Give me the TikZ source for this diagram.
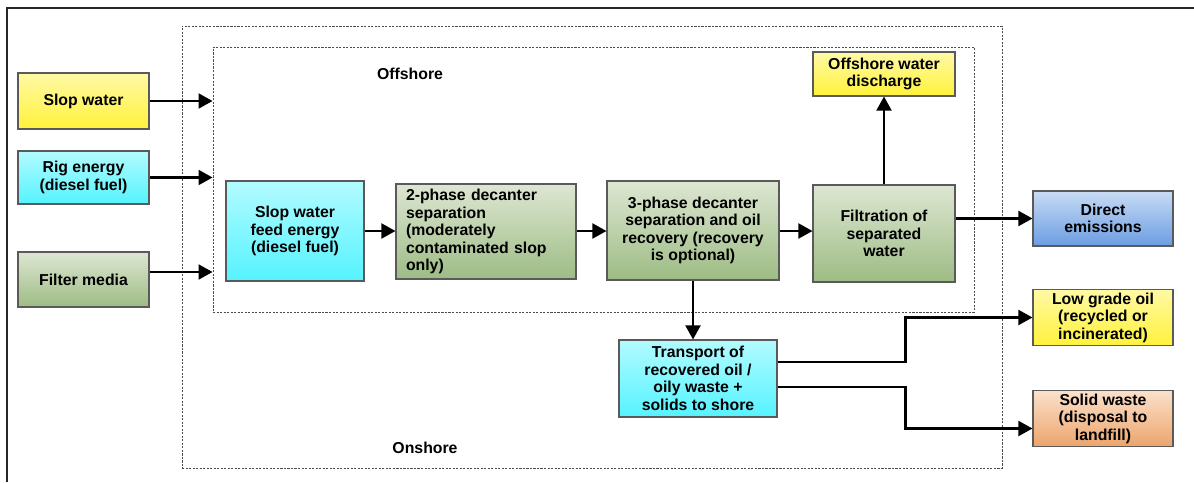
\documentclass[tikz,border=0pt]{standalone}
\usepackage{fontspec}
\setmainfont{Liberation Sans}
\usetikzlibrary{arrows.meta}

\definecolor{ylwtop}{HTML}{FFF9A6}
\definecolor{ylwbot}{HTML}{FFF23A}
\definecolor{cyntop}{HTML}{B2FBFF}
\definecolor{cynbot}{HTML}{55F3FF}
\definecolor{grntop}{HTML}{DDE6D2}
\definecolor{grnbot}{HTML}{9DBC84}
\definecolor{blutop}{HTML}{C8DBF4}
\definecolor{blubot}{HTML}{6B9DE3}
\definecolor{orgtop}{HTML}{FBE1CC}
\definecolor{orgbot}{HTML}{ECA46A}
\definecolor{edgegray}{HTML}{5A5A5A}

\tikzset{
  box/.style={draw=edgegray, line width=0.6pt, align=center, inner sep=2pt,
    font=\fontsize{9}{10}\selectfont\bfseries},
  ylwbox/.style={box, top color=ylwtop, bottom color=ylwbot},
  cynbox/.style={box, top color=cyntop, bottom color=cynbot},
  grnbox/.style={box, top color=grntop, bottom color=grnbot},
  blubox/.style={box, top color=blutop, bottom color=blubot},
  orgbox/.style={box, top color=orgtop, bottom color=orgbot},
  frame/.style={draw=black!70, line width=0.5pt, dash pattern=on 1.2pt off 0.8pt,
    fill=none},
  flow/.style={line width=1.3pt, -{Triangle[length=8pt,width=8.5pt]}},
  tag/.style={font=\fontsize{9}{10}\selectfont\bfseries}
}

\begin{document}
\begin{tikzpicture}
    \useasboundingbox (0,0) rectangle (23.88,-9.64);

    % Page frame
    \draw[line width=1pt, black!85] (23.88,-0.16) -- (0.14,-0.16) -- (0.14,-9.64);

    % Onshore and offshore regions
    \node[frame, minimum width=16.40cm, minimum height=8.84cm] (onshore) at (11.84,-4.94) {};
    \node[frame, minimum width=15.22cm, minimum height=5.30cm] (offshore) at (11.87,-3.59) {};
    \node[tag] (offlabel) at (8.20,-1.47) {Offshore};
    \node[tag] (onlabel) at (8.50,-8.96) {Onshore};

    % Inputs
    \node[ylwbox, minimum width=2.62cm, minimum height=1.12cm] (slop) at (1.67,-2.02) {Slop water};
    \node[cynbox, minimum width=2.62cm, minimum height=1.06cm] (rig) at (1.67,-3.55) {Rig energy\\(diesel fuel)};
    \node[grnbox, minimum width=2.62cm, minimum height=1.10cm] (filter) at (1.67,-5.59) {Filter media};

    % Process steps
    \node[cynbox, minimum width=2.76cm, minimum height=2.00cm] (feed) at (5.90,-4.62) {Slop water\\feed energy\\(diesel fuel)};
    \node[grnbox, text width=3.20cm, inner xsep=0.2cm, align=left, minimum height=1.90cm] (twophase) at (9.72,-4.63) {2-phase decanter\\separation\\(moderately\\contaminated slop\\only)};
    \node[grnbox, minimum width=3.44cm, minimum height=1.98cm] (threephase) at (13.86,-4.61) {3-phase decanter\\separation and oil\\recovery (recovery\\is optional)};
    \node[grnbox, minimum width=2.84cm, minimum height=1.94cm] (filtration) at (17.68,-4.67) {Filtration of\\separated\\water};
    \node[cynbox, minimum width=3.16cm, minimum height=1.54cm] (transport) at (13.96,-7.57) {Transport of\\recovered oil /\\oily waste +\\solids to shore};

    % Outputs
    \node[ylwbox, minimum width=2.84cm, minimum height=0.88cm] (discharge) at (17.68,-1.48) {Offshore water\\discharge};
    \node[blubox, minimum width=2.80cm, minimum height=1.10cm] (direct) at (22.06,-4.37) {Direct\\emissions};
    \node[ylwbox, minimum width=2.80cm, minimum height=1.10cm] (lowgrade) at (22.06,-6.35) {Low grade oil\\(recycled or\\incinerated)};
    \node[orgbox, minimum width=2.80cm, minimum height=1.06cm] (solid) at (22.06,-8.37) {Solid waste\\(disposal to\\landfill)};

    % Connector ends
    \coordinate (filterout) at ([yshift=0.15cm]filter.east);
    \coordinate (oilout) at ([yshift=0.33cm]transport.east);
    \coordinate (solidout) at ([yshift=-0.17cm]transport.east);
    \coordinate (solidin) at ([yshift=-0.2cm]solid.west);

    % Connectors
    \draw[flow] (slop.east) -- (offshore.west |- slop.east);
    \draw[flow] (rig.east) -- (offshore.west |- rig.east);
    \draw[flow] (filterout) -- (offshore.west |- filterout);
    \draw[flow] (feed.east) -- (twophase.west |- feed.east);
    \draw[flow] (twophase.east |- feed.east) -- (threephase.west |- feed.east);
    \draw[flow] (threephase.east |- feed.east) -- (filtration.west |- feed.east);
    \draw[flow] (filtration.north) -- (discharge.south);
    \draw[flow] (filtration.east |- direct.west) -- (direct.west);
    \draw[flow] (threephase.south) -- (threephase.south |- transport.north);
    \draw[flow] (oilout) -- ++(2.56,0) |- (lowgrade.west);
    \draw[flow] (solidout) -- ++(2.56,0) |- (solidin);
\end{tikzpicture}
\end{document}
